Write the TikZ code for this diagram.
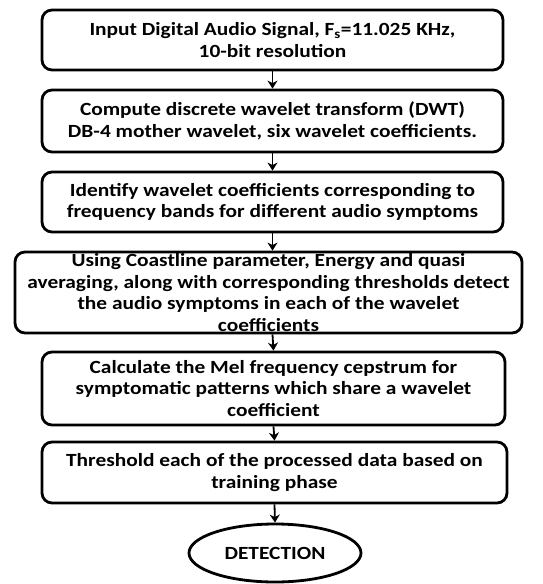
\documentclass[tikz,border=0pt]{standalone}
\usepackage{fontspec}
\setmainfont{Carlito}[FakeStretch=1.15]
\usetikzlibrary{arrows.meta,shapes.geometric}
\begin{document}
\begin{tikzpicture}[x=1pt,y=1pt,
  stepbox/.style={draw=black, line width=2.8pt, rounded corners=10pt, align=center,
    font=\fontsize{18.6}{21.5}\selectfont\bfseries, inner sep=0pt},
  endnode/.style={draw=black, line width=2.8pt, ellipse, inner sep=0pt,
    font=\fontsize{18.6}{21.5}\selectfont\bfseries},
  flow/.style={line width=1.8pt, -{Stealth[length=8pt,width=10pt,inset=2.5pt]}}]
\useasboundingbox (0,0) rectangle (543,-584);
\node[stepbox, minimum width=461, minimum height=60] (b1) at (272.5,-40)
  {Input Digital Audio Signal, F\textsubscript{s}=11.025 KHz,\\10-bit resolution};
\node[stepbox, minimum width=461, minimum height=62] (b2) at (272.5,-121)
  {Compute discrete wavelet transform (DWT)\\DB-4 mother wavelet, six wavelet coefficients.};
\node[stepbox, minimum width=461, minimum height=60] (b3) at (272.5,-202)
  {Identify wavelet coefficients corresponding to\\frequency bands for different audio symptoms};
\node[stepbox, minimum width=507, minimum height=81] (b4) at (268.5,-292.5)
  {Using Coastline parameter, Energy and quasi\\averaging, along with corresponding thresholds detect\\the audio symptoms in each of the wavelet\\coefficients};
\node[stepbox, minimum width=463, minimum height=73] (b5) at (273.5,-388.5)
  {Calculate the Mel frequency cepstrum for\\symptomatic patterns which share a wavelet\\coefficient};
\node[stepbox, minimum width=465, minimum height=61] (b6) at (274.5,-472.5)
  {Threshold each of the processed data based on\\training phase};
\node[endnode, minimum width=172, minimum height=58] (d) at (275,-553) {DETECTION};
\draw[flow] (b1.south) -- (b2.north);
\draw[flow] (b2.south) -- (b3.north);
\draw[flow] (b3.south) -- (b3.south |- b4.north);
\draw[flow] (b3.south |- b4.south) -- (b5.north);
\draw[flow] (b5.south) -- (b6.north);
\draw[flow] (b6.south) -- (d.north);
\end{tikzpicture}
\end{document}
